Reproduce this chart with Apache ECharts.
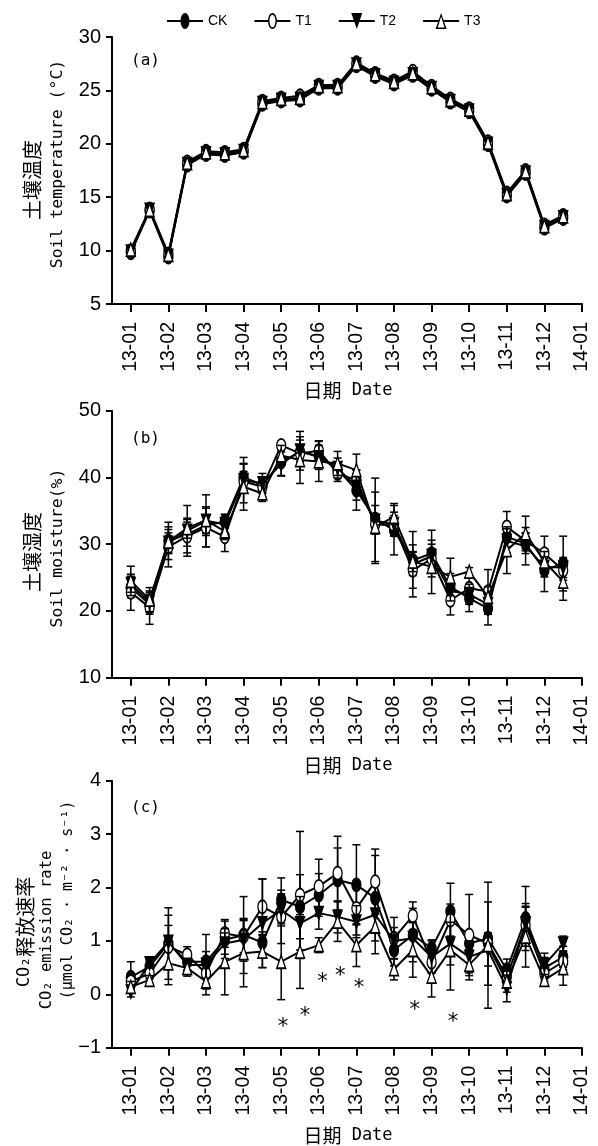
<!DOCTYPE html>
<html><head><meta charset="utf-8">
<script src="https://cdn.jsdelivr.net/npm/echarts@6/dist/echarts.min.js"></script>
<style>html,body{margin:0;padding:0;background:#fff}#c{width:598px;height:1146px}</style>
</head><body><div id="c"></div>
<script>
// ---------- data ----------
const treatments = ['CK', 'T1', 'T2', 'T3'];
const monthTicks = [0, 1, 2, 3, 4, 5, 6, 7, 8, 9, 10, 11, 12];
const monthLabels = ['13-01','13-02','13-03','13-04','13-05','13-06','13-07','13-08','13-09','13-10','13-11','13-12','14-01'];
const sampleX = [0, 0.5, 1, 1.5, 2, 2.5, 3, 3.5, 4, 4.5, 5, 5.5, 6, 6.5, 7, 7.5, 8, 8.5, 9, 9.5, 10, 10.5, 11, 11.5];

// (a) soil temperature
const tempCK = [9.8, 13.7, 9.4, 18.0, 19.0, 18.9, 19.2, 23.7, 24.0, 24.1, 25.2, 25.2, 27.3, 26.3, 25.6, 26.4, 25.1, 23.9, 23.0, 19.9, 15.1, 17.2, 12.1, 13.0];
const tempT1 = [10.0, 13.9, 9.7, 18.3, 19.3, 19.2, 19.5, 24.0, 24.3, 24.5, 25.5, 25.5, 27.6, 26.6, 25.9, 26.8, 25.4, 24.2, 23.3, 20.2, 15.4, 17.5, 12.4, 13.3];
const tempT2 = [9.9, 13.8, 9.5, 18.1, 19.1, 19.0, 19.3, 23.8, 24.1, 24.2, 25.3, 25.3, 27.4, 26.4, 25.7, 26.5, 25.2, 24.0, 23.1, 20.0, 15.2, 17.3, 12.2, 13.1];
const tempT3 = [10.1, 13.8, 9.6, 18.2, 19.2, 19.1, 19.4, 23.9, 24.2, 24.3, 25.4, 25.4, 27.5, 26.5, 25.8, 26.6, 25.3, 24.1, 23.2, 20.1, 15.3, 17.4, 12.3, 13.2];

// (b) soil moisture and SD
const moistCK = [23.5, 21.0, 30.5, 31.5, 32.8, 33.4, 40.0, 38.9, 42.3, 43.8, 43.2, 41.2, 38.1, 33.8, 32.1, 27.6, 28.6, 23.6, 21.9, 20.4, 31.1, 30.1, 26.1, 27.1];
const moistT1 = [22.8, 20.5, 29.6, 31.2, 32.5, 31.1, 39.4, 38.6, 44.8, 43.6, 44.0, 40.6, 39.6, 33.0, 32.8, 26.1, 27.8, 21.6, 23.4, 22.9, 32.6, 30.5, 28.6, 26.1];
const moistT2 = [24.0, 21.3, 30.2, 32.0, 33.5, 33.0, 39.6, 39.1, 42.0, 44.0, 43.0, 41.4, 38.6, 33.5, 33.0, 27.0, 28.2, 23.0, 22.5, 21.0, 30.5, 29.7, 26.6, 26.5];
const moistT3 = [24.5, 21.7, 30.4, 32.4, 33.6, 31.9, 38.6, 37.6, 43.3, 42.6, 42.4, 42.1, 41.1, 32.6, 34.1, 27.4, 26.6, 25.1, 25.9, 22.1, 29.1, 31.6, 27.4, 24.4];
const moistErrCK = [1.5, 1.5, 2.8, 1.8, 1.5, 1.0, 2.0, 1.2, 2.0, 1.8, 1.2, 1.0, 3.0, 2.0, 3.7, 2.3, 3.5, 2.0, 2.0, 2.5, 1.5, 1.5, 3.2, 4.1];
const moistErrT1 = [2.7, 2.5, 3.0, 2.5, 2.9, 2.2, 1.5, 1.5, 0.6, 1.2, 1.5, 1.2, 1.5, 1.5, 1.5, 2.7, 1.5, 2.2, 1.5, 3.3, 2.3, 1.2, 2.6, 1.5];
const moistErrT2 = [1.2, 1.5, 1.5, 3.8, 3.9, 1.5, 3.4, 1.5, 1.8, 2.9, 1.8, 1.5, 2.0, 6.4, 1.8, 4.9, 1.8, 1.5, 1.5, 1.5, 1.8, 2.8, 1.5, 1.5];
const moistErrT3 = [2.2, 1.8, 1.8, 1.5, 2.0, 1.2, 3.5, 1.2, 1.5, 3.5, 3.0, 1.8, 2.4, 5.2, 2.0, 1.5, 4.0, 2.8, 0.6, 1.5, 3.5, 2.6, 1.5, 2.8];

// (c) CO2 emission rate and SD
const co2CK = [0.32, 0.52, 0.95, 0.61, 0.61, 1.02, 1.11, 0.97, 1.77, 1.64, 1.86, 2.14, 2.05, 1.80, 0.83, 1.11, 0.86, 1.55, 0.95, 1.05, 0.46, 1.42, 0.49, 0.70];
const co2T1 = [0.24, 0.39, 0.89, 0.74, 0.39, 1.14, 1.08, 1.64, 1.45, 1.86, 2.02, 2.27, 1.61, 2.11, 1.05, 1.47, 0.60, 1.39, 1.11, 0.95, 0.33, 1.30, 0.39, 0.61];
const co2T2 = [0.05, 0.58, 0.98, 0.55, 0.55, 0.95, 1.02, 1.33, 1.58, 1.33, 1.52, 1.45, 1.36, 1.49, 1.00, 1.05, 0.70, 0.95, 0.70, 0.83, 0.11, 1.33, 0.55, 0.95];
const co2T3 = [0.14, 0.27, 0.58, 0.49, 0.24, 0.61, 0.77, 0.80, 0.61, 0.80, 0.92, 1.36, 0.92, 1.27, 0.47, 0.83, 0.33, 0.83, 0.55, 0.92, 0.24, 1.08, 0.27, 0.49];
const co2ErrCK = [0.29, 0.10, 0.67, 0.15, 0.51, 0.35, 0.72, 0.20, 0.41, 0.60, 0.40, 0.60, 0.75, 0.80, 0.30, 0.50, 0.16, 0.53, 0.20, 0.10, 0.20, 0.60, 0.20, 0.20];
const co2ErrT1 = [0.15, 0.10, 0.40, 0.15, 0.20, 0.26, 0.30, 0.52, 0.50, 1.19, 0.51, 0.69, 0.50, 0.61, 0.39, 0.26, 0.20, 0.30, 0.76, 0.78, 0.20, 0.40, 0.15, 0.15];
const co2ErrT2 = [0.10, 0.08, 0.50, 0.10, 0.25, 0.20, 0.40, 0.83, 0.30, 0.50, 0.30, 0.30, 0.30, 0.30, 0.25, 0.30, 0.30, 0.40, 0.30, 0.30, 0.25, 0.30, 0.22, 0.14];
const co2ErrT3 = [0.10, 0.08, 0.40, 0.15, 0.25, 0.62, 0.63, 0.30, 0.71, 0.69, 0.14, 0.37, 0.40, 0.51, 0.20, 0.51, 0.38, 0.75, 0.28, 1.18, 0.20, 0.57, 0.10, 0.32];

// significance asterisks (c)
const sigX = [4.05, 4.63, 5.10, 5.57, 6.07, 7.55, 8.57];
const sigY = [-0.54, -0.35, 0.30, 0.41, 0.18, -0.23, -0.46];

// ---------- styling ----------
const MONO = 'DejaVu Sans Mono';
const CJK = 'Noto Sans CJK SC';
const NUM = 'Liberation Sans';
const markerStyles = [
  { symbol: 'circle', rotate: 0, fill: '#000' },
  { symbol: 'circle', rotate: 0, fill: '#fff' },
  { symbol: 'triangle', rotate: 180, fill: '#000' },
  { symbol: 'triangle', rotate: 0, fill: '#fff' }
];
const barsE = 'M0 7L13.8 7L13.8 9L0 9Z M22.2 7L36 7L36 9L22.2 9Z ';
const barsT = 'M0 7L15.6 7L15.6 9L0 9Z M20.4 7L36 7L36 9L20.4 9Z ';
const ell = 'M13.5 8A4.5 8 0 1 1 22.5 8A4.5 8 0 1 1 13.5 8Z ';
const legendIcons = [
  'path://' + barsE + ell,
  'path://' + barsE + ell + 'M15 8A3 6.3 0 1 0 21 8A3 6.3 0 1 0 15 8Z',
  'path://' + barsT + 'M12.5 0L23.5 0L18 16Z',
  'path://' + barsT + 'M18 0L23.5 16L12.5 16Z M18 3.5L14.6 14.6L21.4 14.6Z'
];

const grids = [
  { left: 112, right: 16, top: 37, height: 267 },
  { left: 112, right: 16, top: 410.7, height: 267 },
  { left: 112, right: 16, top: 780.7, height: 267 }
];

function xAxisCfg(i) {
  return {
    type: 'value', gridIndex: i, min: -0.5, max: 12,
    axisLine: { show: true, onZero: false, lineStyle: { color: '#000', width: 2 } },
    axisTick: { show: true, customValues: monthTicks, length: 8, lineStyle: { color: '#000', width: 2 } },
    axisLabel: {
      show: true, customValues: monthTicks, rotate: 90, margin: 18, color: '#000',
      fontFamily: NUM, fontSize: 19.5,
      formatter: v => { const k = monthTicks.indexOf(v); return k >= 0 ? monthLabels[k] : ''; }
    },
    splitLine: { show: false }
  };
}
function yAxisCfg(i, min, max, interval) {
  return {
    type: 'value', gridIndex: i, min, max, interval,
    axisLine: { show: true, onZero: false, lineStyle: { color: '#000', width: 2 } },
    axisTick: { show: true, length: 6, lineStyle: { color: '#000', width: 2 } },
    axisLabel: { color: '#000', fontFamily: NUM, fontSize: 20, margin: 11,
      formatter: v => String(v).replace('-', '\u2212') },
    splitLine: { show: false }
  };
}

function errRender(params, api) {
  const x = api.value(0), y = api.value(1), e = api.value(2);
  const t = api.coord([x, y + e]), b = api.coord([x, y - e]);
  const st = { stroke: '#000', lineWidth: 1.5 };
  return { type: 'group', children: [
    { type: 'line', shape: { x1: t[0], y1: t[1], x2: b[0], y2: b[1] }, style: st },
    { type: 'line', shape: { x1: t[0] - 4, y1: t[1], x2: t[0] + 4, y2: t[1] }, style: st },
    { type: 'line', shape: { x1: b[0] - 4, y1: b[1], x2: b[0] + 4, y2: b[1] }, style: st }
  ]};
}

const panels = [
  { vals: [tempCK, tempT1, tempT2, tempT3], errs: null },
  { vals: [moistCK, moistT1, moistT2, moistT3], errs: [moistErrCK, moistErrT1, moistErrT2, moistErrT3] },
  { vals: [co2CK, co2T1, co2T2, co2T3], errs: [co2ErrCK, co2ErrT1, co2ErrT2, co2ErrT3] }
];

const series = [];
panels.forEach((p, pi) => {
  p.vals.forEach((vals, k) => {
    const ms = markerStyles[k];
    if (p.errs) {
      series.push({
        type: 'custom', name: treatments[k] + ' SD', xAxisIndex: pi, yAxisIndex: pi,
        z: 3 + 2 * k, renderItem: errRender, encode: { x: 0, y: 1 },
        data: sampleX.map((x, i) => [x, vals[i], p.errs[k][i]]), silent: true
      });
    }
    series.push({
      type: 'line', name: treatments[k], xAxisIndex: pi, yAxisIndex: pi, z: 4 + 2 * k,
      data: sampleX.map((x, i) => [x, vals[i]]),
      symbol: ms.symbol, symbolRotate: ms.rotate, symbolSize: [9, 13], showAllSymbol: true,
      lineStyle: { color: '#000', width: 2 },
      itemStyle: { color: ms.fill, borderColor: '#000', borderWidth: 1.5 },
      emphasis: { disabled: true }
    });
  });
});
series.push({
  type: 'custom', name: 'sig', xAxisIndex: 2, yAxisIndex: 2, z: 20, silent: true,
  encode: { x: 0, y: 1 },
  data: sigX.map((x, i) => [x, sigY[i]]),
  renderItem: (params, api) => {
    const c = api.coord([api.value(0), api.value(1)]);
    return { type: 'text', x: c[0], y: c[1] + 4, style: {
      text: '*', fill: '#000', fontSize: 21, fontFamily: 'DejaVu Sans',
      align: 'center', verticalAlign: 'middle', textAlign: 'center', textVerticalAlign: 'middle' } };
  }
});

function vText(x, y, text, font, size, rich) {
  const st = { text, fill: '#000', fontFamily: font, fontSize: size,
    align: 'center', verticalAlign: 'middle', textAlign: 'center', textVerticalAlign: 'middle' };
  if (rich) st.rich = rich;
  return { type: 'text', x, y, rotation: Math.PI / 2, style: st };
}
function hText(x, y, text, font, size, align, rich) {
  const st = { text, fill: '#000', fontFamily: font, fontSize: size,
    align: align, verticalAlign: 'middle', textAlign: align, textVerticalAlign: 'middle' };
  if (rich) st.rich = rich;
  return { type: 'text', x, y, style: st };
}
const dateRich = { c: { fontFamily: CJK, fontSize: 19, fill: '#000' }, m: { fontFamily: MONO, fontSize: 17, fill: '#000' } };
const co2Rich = { a: { fontFamily: MONO, fontSize: 17, fill: '#000' }, b: { fontFamily: CJK, fontSize: 20, fill: '#000' } };

const graphics = [
  vText(32, 180, '土壤温度', CJK, 20),
  vText(58, 164, 'Soil temperature (°C)', MONO, 16.5),
  vText(32, 552, '土壤湿度', CJK, 20),
  vText(58, 548, 'Soil moisture(%)', MONO, 16.5),
  vText(25, 932, '{a|CO₂}{b|释放速率}', MONO, 17, co2Rich),
  vText(47, 930, 'CO₂ emission rate', MONO, 15.5),
  vText(68, 900, '(μmol CO₂ · m⁻² · s⁻¹)', MONO, 15),
  hText(348, 391, '{c|日期} {m|Date}', MONO, 17, 'center', dateRich),
  hText(348, 766, '{c|日期} {m|Date}', MONO, 17, 'center', dateRich),
  hText(348, 1136, '{c|日期} {m|Date}', MONO, 17, 'center', dateRich),
  hText(131, 61, '(a)', MONO, 16, 'left'),
  hText(131, 439, '(b)', MONO, 16, 'left'),
  hText(131, 808, '(c)', MONO, 16, 'left')
];

const chart = echarts.init(document.getElementById('c'), null, { renderer: 'canvas' });
chart.setOption({
  backgroundColor: '#fff',
  animation: false,
  legend: {
    top: 8, left: 162, itemWidth: 36, itemHeight: 17, itemGap: 27, selectedMode: false,
    textStyle: { fontFamily: NUM, fontSize: 14, color: '#000' },
    data: treatments.map((t, i) => ({ name: t, icon: legendIcons[i], itemStyle: { color: '#000', borderWidth: 0 } }))
  },
  grid: grids,
  xAxis: [xAxisCfg(0), xAxisCfg(1), xAxisCfg(2)],
  yAxis: [yAxisCfg(0, 5, 30, 5), yAxisCfg(1, 10, 50, 10), yAxisCfg(2, -1, 4, 1)],
  series,
  graphic: graphics
});
</script></body></html>
